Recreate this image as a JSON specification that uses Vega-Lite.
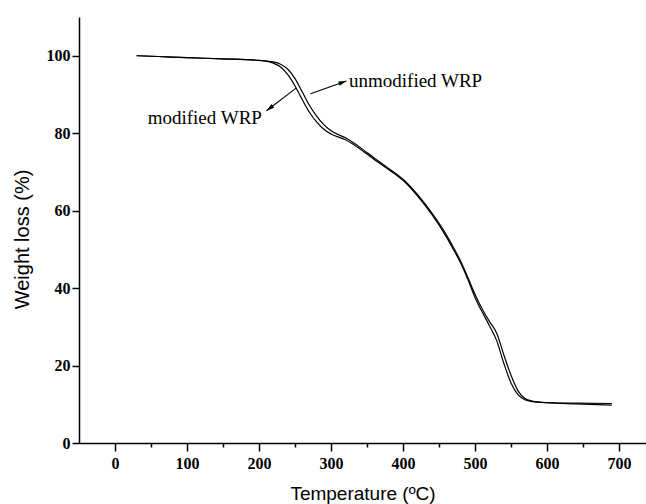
{
  "$schema": "https://vega.github.io/schema/vega-lite/v6.json",
  "width": 567,
  "height": 426,
  "autosize": "none",
  "padding": {"left": 79, "top": 17, "right": 0, "bottom": 61},
  "background": "white",
  "config": {"view": {"stroke": null}},
  "datasets": {
    "curves": [
      {"series": "modified", "T": 30, "W": 100.0}, {"series": "modified", "T": 60, "W": 99.8}, {"series": "modified", "T": 100, "W": 99.5}, {"series": "modified", "T": 150, "W": 99.2}, {"series": "modified", "T": 200, "W": 98.8}, {"series": "modified", "T": 210, "W": 98.6}, {"series": "modified", "T": 220, "W": 98.1}, {"series": "modified", "T": 230, "W": 97.1}, {"series": "modified", "T": 240, "W": 95.1}, {"series": "modified", "T": 250, "W": 92.2}, {"series": "modified", "T": 260, "W": 88.7}, {"series": "modified", "T": 270, "W": 85.4}, {"series": "modified", "T": 280, "W": 82.9}, {"series": "modified", "T": 290, "W": 81.0}, {"series": "modified", "T": 300, "W": 79.8}, {"series": "modified", "T": 320, "W": 78.3}, {"series": "modified", "T": 340, "W": 76.0}, {"series": "modified", "T": 360, "W": 73.2}, {"series": "modified", "T": 380, "W": 70.6}, {"series": "modified", "T": 400, "W": 67.8}, {"series": "modified", "T": 420, "W": 63.8}, {"series": "modified", "T": 440, "W": 59.0}, {"series": "modified", "T": 460, "W": 53.3}, {"series": "modified", "T": 470, "W": 50.0}, {"series": "modified", "T": 480, "W": 46.5}, {"series": "modified", "T": 490, "W": 42.3}, {"series": "modified", "T": 500, "W": 37.6}, {"series": "modified", "T": 510, "W": 33.8}, {"series": "modified", "T": 520, "W": 30.3}, {"series": "modified", "T": 530, "W": 26.5}, {"series": "modified", "T": 540, "W": 20.6}, {"series": "modified", "T": 550, "W": 15.5}, {"series": "modified", "T": 560, "W": 12.4}, {"series": "modified", "T": 570, "W": 11.1}, {"series": "modified", "T": 580, "W": 10.7}, {"series": "modified", "T": 600, "W": 10.4}, {"series": "modified", "T": 640, "W": 10.3}, {"series": "modified", "T": 690, "W": 10.2},
      {"series": "unmodified", "T": 30, "W": 100.0}, {"series": "unmodified", "T": 60, "W": 99.8}, {"series": "unmodified", "T": 100, "W": 99.5}, {"series": "unmodified", "T": 150, "W": 99.2}, {"series": "unmodified", "T": 200, "W": 98.8}, {"series": "unmodified", "T": 210, "W": 98.6}, {"series": "unmodified", "T": 220, "W": 98.4}, {"series": "unmodified", "T": 230, "W": 97.8}, {"series": "unmodified", "T": 240, "W": 96.5}, {"series": "unmodified", "T": 250, "W": 94.1}, {"series": "unmodified", "T": 260, "W": 90.7}, {"series": "unmodified", "T": 270, "W": 87.2}, {"series": "unmodified", "T": 280, "W": 84.4}, {"series": "unmodified", "T": 290, "W": 82.2}, {"series": "unmodified", "T": 300, "W": 80.6}, {"series": "unmodified", "T": 320, "W": 78.8}, {"series": "unmodified", "T": 340, "W": 76.4}, {"series": "unmodified", "T": 360, "W": 73.6}, {"series": "unmodified", "T": 380, "W": 70.9}, {"series": "unmodified", "T": 400, "W": 68.1}, {"series": "unmodified", "T": 420, "W": 64.2}, {"series": "unmodified", "T": 440, "W": 59.4}, {"series": "unmodified", "T": 460, "W": 53.8}, {"series": "unmodified", "T": 470, "W": 50.5}, {"series": "unmodified", "T": 480, "W": 47.0}, {"series": "unmodified", "T": 490, "W": 42.8}, {"series": "unmodified", "T": 500, "W": 38.4}, {"series": "unmodified", "T": 510, "W": 34.6}, {"series": "unmodified", "T": 520, "W": 31.4}, {"series": "unmodified", "T": 530, "W": 28.4}, {"series": "unmodified", "T": 540, "W": 22.8}, {"series": "unmodified", "T": 550, "W": 17.5}, {"series": "unmodified", "T": 560, "W": 13.4}, {"series": "unmodified", "T": 570, "W": 11.4}, {"series": "unmodified", "T": 580, "W": 10.8}, {"series": "unmodified", "T": 600, "W": 10.4}, {"series": "unmodified", "T": 640, "W": 10.1}, {"series": "unmodified", "T": 690, "W": 9.8}
    ],
    "arrows": [
      {"name": "modified WRP", "t1": 252, "w1": 91.7, "t2": 210.4, "w2": 85.8, "angle": 232.5},
      {"name": "unmodified WRP", "t1": 271.5, "w1": 90.2, "t2": 321.5, "w2": 93.5, "angle": 70}
    ],
    "labelRight": [{"text": "modified WRP", "t": 204, "w": 84.0}],
    "labelLeft": [{"text": "unmodified WRP", "t": 325, "w": 93.6}]
  },
  "layer": [
    {
      "data": {"name": "curves"},
      "mark": {"type": "line", "strokeWidth": 1.2, "interpolate": "monotone"},
      "encoding": {
        "x": {
          "field": "T", "type": "quantitative",
          "scale": {"domain": [-50, 737.5], "nice": false, "zero": false},
          "axis": {
            "title": "Temperature (ºC)",
            "values": [0, 50, 100, 150, 200, 250, 300, 350, 400, 450, 500, 550, 600, 650, 700],
            "labelExpr": "datum.value % 100 === 0 ? datum.label : ''",
            "labelFont": "Liberation Serif", "labelFontWeight": "bold", "labelFontSize": 16, "labelColor": "black",
            "labelPadding": 4, "labelFlush": false, "labelOverlap": false,
            "tickSize": {"condition": {"test": "datum.value % 100 === 0", "value": 8}, "value": 4},
            "tickColor": "black", "tickWidth": 1.5,
            "domainColor": "black", "domainWidth": 1.5,
            "grid": false,
            "titleFont": "Liberation Sans", "titleFontSize": 19, "titleFontWeight": "normal", "titleColor": "black",
            "titleY": 56, "titleBaseline": "alphabetic"
          }
        },
        "y": {
          "field": "W", "type": "quantitative",
          "scale": {"domain": [0, 110], "nice": false},
          "axis": {
            "title": "Weight loss (%)",
            "values": [0, 10, 20, 30, 40, 50, 60, 70, 80, 90, 100, 110],
            "labelExpr": "datum.value % 20 === 0 && datum.value <= 100 ? datum.label : ''",
            "labelFont": "Liberation Serif", "labelFontWeight": "bold", "labelFontSize": 16, "labelColor": "black",
            "labelPadding": 2, "labelFlush": false, "labelOverlap": false,
            "tickSize": {"condition": {"test": "datum.value % 20 === 0 && datum.value <= 100", "value": 7}, "value": 4},
            "tickColor": "black", "tickWidth": 1.5,
            "domainColor": "black", "domainWidth": 1.5,
            "grid": false,
            "titleFont": "Liberation Sans", "titleFontSize": 20, "titleFontWeight": "normal", "titleColor": "black",
            "titleX": -57, "titleY": 222, "titleBaseline": "middle"
          }
        },
        "detail": {"field": "series", "type": "nominal"},
        "color": {"value": "black"}
      }
    },
    {
      "data": {"name": "arrows"},
      "mark": {"type": "rule", "color": "black", "strokeWidth": 1.1},
      "encoding": {
        "x": {"field": "t1", "type": "quantitative"},
        "y": {"field": "w1", "type": "quantitative"},
        "x2": {"field": "t2"},
        "y2": {"field": "w2"}
      }
    },
    {
      "data": {"name": "arrows"},
      "mark": {"type": "point", "shape": "M0,0L0.45,1.6L-0.45,1.6Z", "filled": true, "color": "black", "opacity": 1, "size": 100},
      "encoding": {
        "x": {"field": "t2", "type": "quantitative"},
        "y": {"field": "w2", "type": "quantitative"},
        "angle": {"field": "angle", "type": "quantitative", "scale": null}
      }
    },
    {
      "data": {"name": "labelLeft"},
      "mark": {"type": "text", "align": "left", "baseline": "middle", "font": "Liberation Serif", "fontSize": 19, "color": "black"},
      "encoding": {
        "x": {"field": "t", "type": "quantitative"},
        "y": {"field": "w", "type": "quantitative"},
        "text": {"field": "text"}
      }
    },
    {
      "data": {"name": "labelRight"},
      "mark": {"type": "text", "align": "right", "baseline": "middle", "font": "Liberation Serif", "fontSize": 19, "color": "black"},
      "encoding": {
        "x": {"field": "t", "type": "quantitative"},
        "y": {"field": "w", "type": "quantitative"},
        "text": {"field": "text"}
      }
    }
  ]
}
